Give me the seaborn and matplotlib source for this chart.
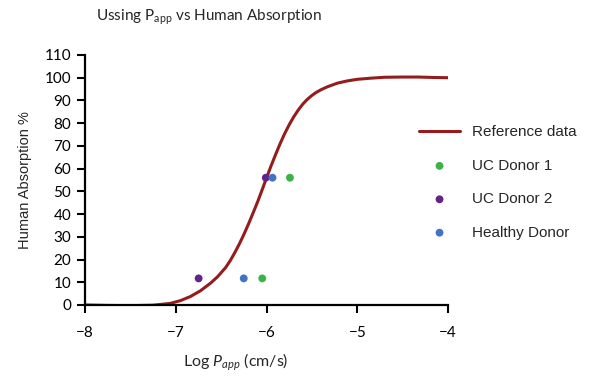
import numpy as np
import pandas as pd
import matplotlib
matplotlib.use("Agg")
import matplotlib.pyplot as plt
import seaborn as sns

# reference curve
ref_x = [-8.0, -7.75, -7.5, -7.25, -7.06, -6.95, -6.84, -6.73, -6.62, -6.54,
         -6.45, -6.40, -6.35, -6.30, -6.25, -6.20, -6.15, -6.10, -6.05, -6.00,
         -5.95, -5.90, -5.85, -5.80, -5.75, -5.70, -5.65, -5.60, -5.55, -5.50,
         -5.45, -5.40, -5.33, -5.22, -5.11, -5.0, -4.85, -4.70, -4.50, -4.33,
         -4.15, -4.0]
ref_y = [0.0, -0.2, -0.3, -0.1, 0.7, 1.9, 3.7, 6.2, 9.5, 12.4,
         16.5, 19.5, 23.0, 26.8, 31.0, 35.5, 40.3, 45.2, 50.5, 55.9,
         61.2, 66.2, 71.0, 75.4, 79.3, 82.8, 85.8, 88.4, 90.5, 92.2,
         93.6, 94.7, 96.0, 97.6, 98.6, 99.3, 99.8, 100.2, 100.3, 100.3,
         100.1, 100.0]

# donor measurements
uc1_x = [-6.047, -5.742]
uc1_y = [11.7, 56.0]
uc2_x = [-6.748, -6.008]
uc2_y = [11.7, 56.0]
healthy_x = [-6.251, -5.934]
healthy_y = [11.7, 56.0]

sns.set_style("ticks")
plt.rcParams["font.family"] = ["Lato", "DejaVu Sans"]
plt.rcParams["mathtext.fontset"] = "custom"
plt.rcParams["mathtext.rm"] = "Lato"
plt.rcParams["mathtext.it"] = "Lato:italic"

fig = plt.figure(figsize=(6, 3.79), dpi=100)
ax = fig.add_axes([0.1417, 0.1953, 0.605, 0.6596])

ref = pd.DataFrame({"x": ref_x, "y": ref_y})
sns.lineplot(data=ref, x="x", y="y", ax=ax, color="#951c1c", linewidth=2.2,
             label="Reference data", zorder=2)

donors = [("UC Donor 1", uc1_x, uc1_y, "#3bb34a"),
          ("UC Donor 2", uc2_x, uc2_y, "#5f2589"),
          ("Healthy Donor", healthy_x, healthy_y, "#4472c4")]
for name, xs, ys, col in donors:
    sns.scatterplot(x=xs, y=ys, ax=ax, color=col, s=32, edgecolor="none",
                    label=name, zorder=3)

ax.set_xlim(-8, -4)
ax.set_ylim(0, 110)
ax.set_xticks([-8, -7, -6, -5, -4])
ax.set_yticks(range(0, 111, 10))
ax.tick_params(axis="both", labelsize=11, colors="black", width=1.5, length=6,
               direction="out", pad=4)
ax.tick_params(axis="x", pad=9)
for s in ["top", "right"]:
    ax.spines[s].set_visible(False)
for s in ["left", "bottom"]:
    ax.spines[s].set_linewidth(1.6)
    ax.spines[s].set_color("black")

ax.set_xlabel("Log $P_{app}$ (cm/s)", fontsize=11.5)
ax.xaxis.set_label_coords(0.416, -0.185)
ax.set_ylabel("Human Absorption %", fontsize=10.5, family=["Liberation Sans", "DejaVu Sans"])
ax.yaxis.set_label_coords(-0.147, 0.5)

fig.text(0.16, 0.953, r"Ussing P$_{\mathrm{app}}$ vs Human Absorption", fontsize=11,
         ha="left", va="center")

ax.legend(loc="upper left", bbox_to_anchor=(0.688, 0.685), bbox_transform=fig.transFigure,
          frameon=False, prop={"family": ["Liberation Sans", "DejaVu Sans"], "size": 11},
          labelspacing=1.27, handlelength=2.7, handletextpad=0.75, borderaxespad=0)

fig.savefig("out.png", dpi=100)
